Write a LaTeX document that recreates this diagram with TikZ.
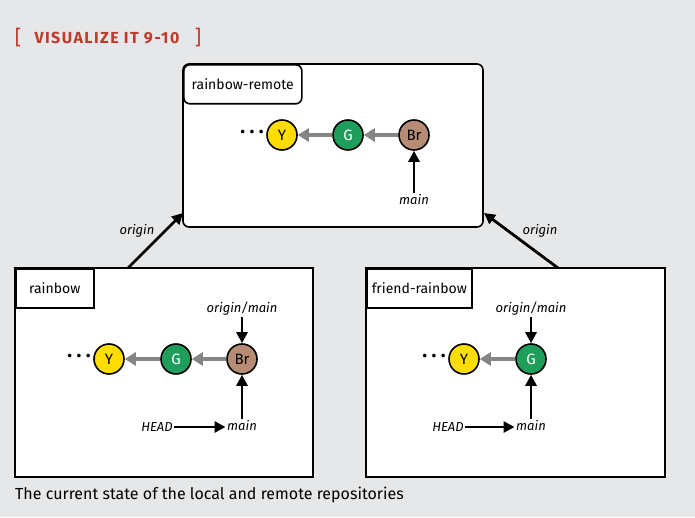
\documentclass[tikz,border=0pt]{standalone}
\usepackage{fontspec}
\setmainfont{Fira Sans}
\newfontfamily\titlefont[LetterSpace=9]{Fira Sans}
\newfontfamily\dotsfont[LetterSpace=22]{Fira Sans}
\usetikzlibrary{arrows.meta}
\definecolor{panelgray}{HTML}{E6E7E8}
\definecolor{titlered}{HTML}{C0392B}
\definecolor{commitY}{HTML}{FFDD00}
\definecolor{commitG}{HTML}{1E9E5A}
\definecolor{commitBr}{HTML}{B88C74}
\definecolor{parentgray}{HTML}{858585}
\tikzset{
  commit/.style={circle, draw, line width=1.6pt, minimum size=30pt, inner sep=0pt, font=\fontsize{15}{15}\selectfont},
  refname/.style={font=\itshape\fontsize{13}{13}\selectfont, inner sep=1.5pt},
  dots/.style={font=\dotsfont\bfseries\fontsize{20}{20}\selectfont, inner sep=0pt},
  repobox/.style={draw, fill=white, line width=1.6pt},
  repotab/.style={draw, fill=white, line width=1.6pt, anchor=north west, inner sep=5pt, minimum height=39pt, font=\fontsize{14}{14}\selectfont},
  ptr/.style={-{Triangle[length=11pt,width=11pt]}, line width=2.8pt},
  parent/.style={-{Triangle[length=11pt,width=13pt]}, line width=3.8pt, parentgray},
}
\begin{document}
\begin{tikzpicture}[x=1pt,y=1pt]
\fill[panelgray] (0,0) rectangle (695,517);
\useasboundingbox (0,0) rectangle (695,517);

% title
\node[titlered, font=\fontsize{20}{20}\selectfont] (lbr) at (18,479) {[};
\node[titlered, font=\titlefont\bfseries\fontsize{16}{16}\selectfont, anchor=west] (title) at (31,479) {VISUALIZE IT 9-10};
\node[titlered, font=\fontsize{20}{20}\selectfont] (rbr) at (198,479) {]};

% rainbow-remote
\draw[repobox, rounded corners=6pt] (183,453) rectangle (483,290);
\node[repotab, rounded corners=6pt, minimum width=118pt] (remotetab) at (183,453) {rainbow-remote};
\node[dots] (rdots) at (252,385) {...};
\node[commit, fill=commitY] (rY) at (282,382) {Y};
\node[commit, fill=commitG, text=white] (rG) at (348,382) {G};
\node[commit, fill=commitBr] (rBr) at (414,382) {Br};
\node[refname] (rmain) at (414,317) {main};
\draw[parent] (rG) -- (rY);
\draw[parent] (rBr) -- (rG);
\draw[ptr] (rmain) -- (rBr);

% rainbow
\draw[repobox] (15,249) rectangle (313,40);
\node[repotab, minimum width=78pt] (localtab) at (15,249) {rainbow};
\node[dots] (ldots) at (79,161) {...};
\node[commit, fill=commitY] (lY) at (109,158) {Y};
\node[commit, fill=commitG, text=white] (lG) at (176,158) {G};
\node[commit, fill=commitBr] (lBr) at (242,158) {Br};
\node[refname] (lorigin) at (242,208) {origin/main};
\node[refname] (lmain) at (242,91) {main};
\node[refname] (lhead) at (157,90) {HEAD};
\draw[parent] (lG) -- (lY);
\draw[parent] (lBr) -- (lG);
\draw[ptr] (lorigin) -- (lBr);
\draw[ptr] (lmain) -- (lBr);
\draw[ptr] (lhead.east) -- (lhead.east -| lmain.west);

% friend-rainbow
\draw[repobox] (366,249) rectangle (665,40);
\node[repotab, minimum width=102pt] (friendtab) at (366,249) {friend-rainbow};
\node[dots] (fdots) at (434,161) {...};
\node[commit, fill=commitY] (fY) at (464,158) {Y};
\node[commit, fill=commitG, text=white] (fG) at (531,158) {G};
\node[refname] (forigin) at (531,208) {origin/main};
\node[refname] (fmain) at (531,91) {main};
\node[refname] (fhead) at (448,90) {HEAD};
\draw[parent] (fG) -- (fY);
\draw[ptr] (forigin) -- (fG);
\draw[ptr] (fmain) -- (fG);
\draw[ptr] (fhead.east) -- (fhead.east -| fmain.west);

% remotes
\coordinate (lout) at (128,249);
\coordinate (rin) at (183,304);
\coordinate (fout) at (558,249);
\coordinate (fin) at (484,304);
\draw[ptr] (lout) -- (rin);
\draw[ptr] (fout) -- (fin);
\node[refname] (lorlabel) at (137,286) {origin};
\node[refname] (forlabel) at (540,286) {origin};

\node[anchor=west, font=\fontsize{16}{16}\selectfont, inner sep=0pt] (caption) at (15,22) {The current state of the local and remote repositories};
\end{tikzpicture}
\end{document}
